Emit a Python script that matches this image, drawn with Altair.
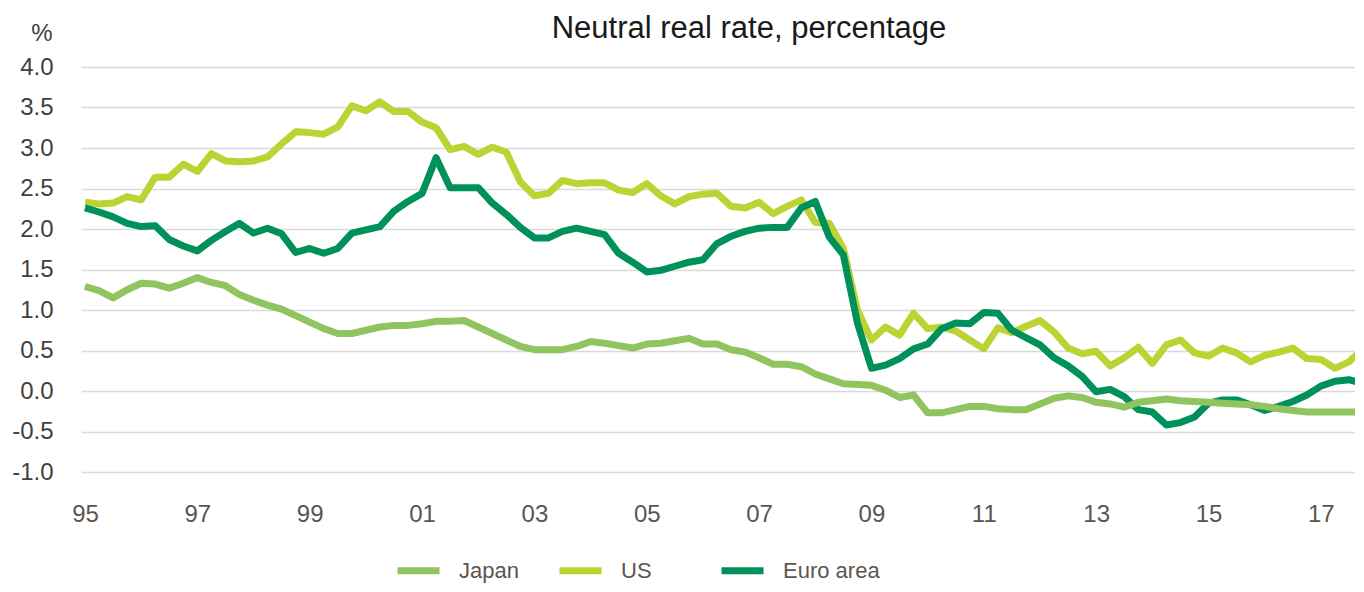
import altair as alt
import pandas as pd

# Quarterly observations, 1995Q1 .. 2017Q4
start_year = 1995
series_names = ["Japan", "US", "Euro area"]
series_colors = ["#8fc45f", "#bdd233", "#00915a"]

japan = [1.29, 1.24, 1.15, 1.25, 1.33, 1.32, 1.27, 1.33, 1.40, 1.34,
         1.30, 1.19, 1.12, 1.06, 1.01, 0.93, 0.85, 0.77, 0.71, 0.71,
         0.75, 0.79, 0.81, 0.81, 0.83, 0.86, 0.86, 0.87, 0.79, 0.71,
         0.63, 0.55, 0.51, 0.51, 0.51, 0.55, 0.61, 0.59, 0.56, 0.53,
         0.58, 0.59, 0.62, 0.65, 0.58, 0.58, 0.51, 0.48, 0.41, 0.33,
         0.33, 0.30, 0.21, 0.15, 0.09, 0.08, 0.07, 0.01, -0.08, -0.05,
         -0.27, -0.27, -0.23, -0.19, -0.19, -0.22, -0.23, -0.23, -0.16, -0.09,
         -0.06, -0.08, -0.14, -0.16, -0.20, -0.14, -0.12, -0.10, -0.12, -0.13,
         -0.14, -0.15, -0.16, -0.17, -0.19, -0.22, -0.24, -0.26, -0.26, -0.26,
         -0.26, -0.26]

us = [2.33, 2.31, 2.32, 2.40, 2.36, 2.64, 2.64, 2.80, 2.71, 2.93,
      2.84, 2.83, 2.84, 2.89, 3.05, 3.20, 3.19, 3.17, 3.26, 3.52,
      3.46, 3.57, 3.45, 3.45, 3.32, 3.25, 2.98, 3.02, 2.92, 3.01,
      2.95, 2.58, 2.41, 2.44, 2.60, 2.56, 2.57, 2.57, 2.48, 2.45,
      2.56, 2.41, 2.31, 2.40, 2.43, 2.44, 2.28, 2.26, 2.33, 2.19,
      2.28, 2.36, 2.08, 2.07, 1.76, 1.00, 0.63, 0.79, 0.69, 0.96,
      0.77, 0.79, 0.74, 0.63, 0.52, 0.78, 0.72, 0.80, 0.87, 0.73,
      0.53, 0.46, 0.49, 0.31, 0.41, 0.54, 0.34, 0.57, 0.63, 0.47,
      0.43, 0.53, 0.47, 0.36, 0.44, 0.48, 0.53, 0.40, 0.39, 0.28,
      0.36, 0.52]

euro = [2.26, 2.21, 2.15, 2.07, 2.03, 2.04, 1.87, 1.79, 1.73, 1.86,
        1.97, 2.07, 1.95, 2.01, 1.94, 1.71, 1.76, 1.70, 1.76, 1.95,
        1.99, 2.03, 2.22, 2.34, 2.44, 2.88, 2.51, 2.51, 2.51, 2.32,
        2.18, 2.02, 1.89, 1.89, 1.97, 2.01, 1.97, 1.93, 1.70, 1.59,
        1.47, 1.49, 1.54, 1.59, 1.62, 1.82, 1.91, 1.97, 2.01, 2.02,
        2.02, 2.26, 2.34, 1.90, 1.68, 0.84, 0.28, 0.32, 0.40, 0.52,
        0.58, 0.77, 0.84, 0.83, 0.97, 0.96, 0.75, 0.66, 0.57, 0.41,
        0.31, 0.18, -0.01, 0.02, -0.07, -0.23, -0.26, -0.42, -0.39, -0.32,
        -0.15, -0.11, -0.11, -0.17, -0.24, -0.19, -0.13, -0.05, 0.06, 0.12,
        0.14, 0.09]

x_ticks = list(range(1995, 2018, 2))
y_ticks = [-1.0, -0.5, 0.0, 0.5, 1.0, 1.5, 2.0, 2.5, 3.0, 3.5, 4.0]

rows = []
for name, vals in zip(series_names, [japan, us, euro]):
    for i, v in enumerate(vals):
        rows.append({"t": start_year + i / 4.0, "value": v, "series": name})
df = pd.DataFrame(rows)

FONT = "Liberation Sans"

color = alt.Color(
    "series:N",
    scale=alt.Scale(domain=series_names, range=series_colors),
    legend=alt.Legend(
        title=None, orient="none", legendX=313, legendY=479,
        direction="horizontal", columns=3, gridAlign="all",
        symbolType="stroke", symbolSize=1764, symbolStrokeWidth=7,
        labelFontSize=22, labelFont=FONT, labelColor="#5a5550",
        labelOffset=16, columnPadding=-13, padding=0,
    ),
)

x = alt.X(
    "t:Q",
    scale=alt.Scale(domain=[1994.929, 2017.75], nice=False, zero=False),
    axis=alt.Axis(
        values=x_ticks, labelExpr="format(datum.value % 100, '02d')",
        grid=False, ticks=False, domain=False, labelFontSize=24,
        labelFont=FONT, labelColor="#5a5550", labelPadding=30, title=None,
    ),
)

y = alt.Y(
    "value:Q",
    scale=alt.Scale(domain=[-1, 4], nice=False),
    axis=alt.Axis(
        values=y_ticks,
        labelExpr="datum.value < 0 ? '-' + format(-datum.value, '.1f') : format(datum.value, '.1f')",
        labelFontSize=24, labelFont=FONT, labelColor="#404040", labelPadding=28,
        ticks=False, domain=False, gridColor="#d9d9d9", gridWidth=1.5,
        title="%", titleAngle=0, titleAlign="right", titleBaseline="middle",
        titleX=-29, titleY=-34, titleFontSize=24, titleFontWeight="normal",
        titleColor="#404040", titleFont=FONT,
    ),
)

def layer(name):
    return (
        alt.Chart(df)
        .transform_filter(alt.datum.series == name)
        .mark_line(strokeWidth=7, strokeJoin="round", strokeCap="butt")
        .encode(x=x, y=y, color=color, order="t:Q")
    )

chart = (
    alt.layer(layer("US"), layer("Euro area"), layer("Japan"))
    .properties(
        width=1282, height=405,
        padding={"left": 73, "top": 59, "right": -8, "bottom": 112},
        autosize=alt.AutoSizeParams(type="none"),
        title=alt.TitleParams(
            "Neutral real rate, percentage", font=FONT,
            fontSize=31, fontWeight="normal", color="#1a1a1a",
            anchor="middle", dx=27, dy=48, frame="group",
            baseline="alphabetic", offset=0,
        ),
    )
    .configure_view(stroke=None)
)

chart.save("out.html", embed_options={"renderer": "svg", "actions": False})
